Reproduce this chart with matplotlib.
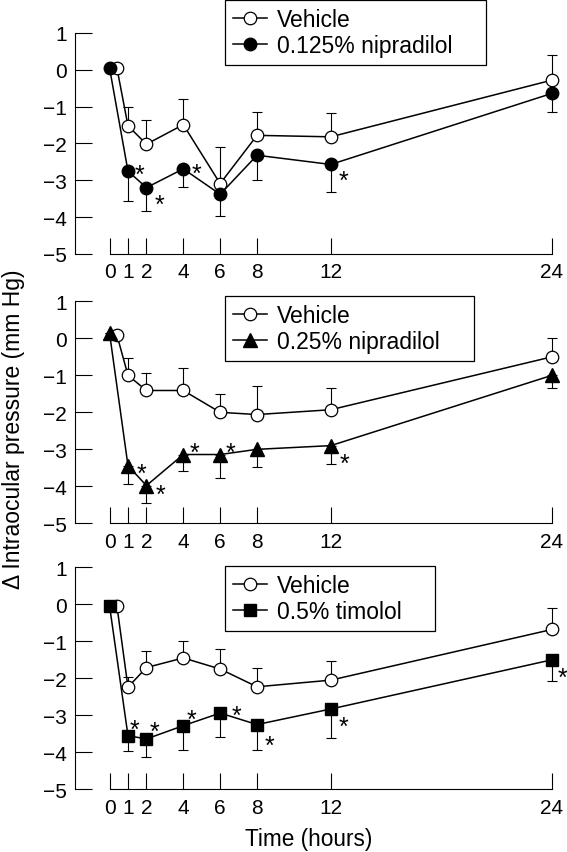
import matplotlib
matplotlib.use("Agg")
import matplotlib.pyplot as plt

plt.rcParams['font.family'] = ['Liberation Sans', 'DejaVu Sans']

hours = [0, 1, 2, 4, 6, 8, 12, 24]

# panel 1: vehicle vs 0.125% nipradilol
veh1 = [0.05, -1.52, -2.02, -1.49, -3.09, -1.78, -1.82, -0.28]
veh1_se = [0, 0.52, 0.67, 0.69, 0.99, 0.64, 0.66, 0.67]
nip125 = [0.05, -2.75, -3.2, -2.69, -3.38, -2.32, -2.57, -0.64]
nip125_se = [0, 0.81, 0.63, 0.48, 0.6, 0.68, 0.75, 0.5]
nip125_sig = [1, 2, 4, 12]

# panel 2: vehicle vs 0.25% nipradilol
veh2 = [0.09, -1.0, -1.41, -1.41, -2.0, -2.06, -1.93, -0.5]
veh2_se = [0, 0.48, 0.46, 0.6, 0.5, 0.77, 0.6, 0.5]
nip25 = [0.14, -3.44, -3.98, -3.14, -3.14, -3.0, -2.9, -1.0]
nip25_se = [0, 0.51, 0.47, 0.45, 0.63, 0.47, 0.51, 0.35]
nip25_sig = [1, 2, 4, 6, 12]

# panel 3: vehicle vs 0.5% timolol
veh3 = [-0.04, -2.24, -1.71, -1.45, -1.75, -2.23, -2.05, -0.68]
veh3_se = [0, 0.28, 0.46, 0.47, 0.53, 0.5, 0.51, 0.59]
tim = [-0.04, -3.55, -3.64, -3.28, -2.94, -3.25, -2.83, -1.5]
tim_se = [0, 0.42, 0.49, 0.67, 0.65, 0.7, 0.79, 0.58]
tim_sig = [1, 2, 4, 6, 8, 12, 24]

# asterisk offsets (px right, px up) per significant time point
star_off1 = {1: (12, 3), 2: (13, -10), 4: (13, 2), 12: (13, -9)}
star_off2 = {1: (14, -1), 2: (14, -2), 4: (11, 9), 6: (10, 9), 12: (14, -11)}
star_off3 = {1: (7, 13), 2: (8, 14), 4: (8, 13), 6: (16, 4), 8: (12, -14),
             12: (13, -11), 24: (10, -11)}


def draw_panel(ax, veh, veh_se, drug, drug_se, sig, offs, marker, label, leg_box):
    zeros = [0] * len(hours)
    veh_x = [h + 0.4 if h == 0 else h for h in hours]
    ax.errorbar(veh_x, veh, yerr=[zeros, veh_se], fmt='none', ecolor='black',
                elinewidth=0.8, capsize=3.5, capthick=0.8, clip_on=False, zorder=2)
    ax.errorbar(hours, drug, yerr=[drug_se, zeros], fmt='none', ecolor='black',
                elinewidth=0.8, capsize=3.5, capthick=0.8, clip_on=False, zorder=2)
    ax.plot(veh_x, veh, '-o', color='black', lw=1.1, ms=9, mfc='white',
            mec='black', mew=0.9, label='Vehicle', clip_on=False, zorder=3)
    ms = {'o': 9, '^': 10.5, 's': 8.3}[marker]
    ax.plot(hours, drug, '-' + marker, color='black', lw=1.1, ms=ms, mfc='black',
            mec='black', label=label, clip_on=False, zorder=4)
    for h in sig:
        i = hours.index(h)
        dx, dy = offs[h]
        ax.annotate('*', (hours[i], drug[i]), xytext=(dx * 0.72, dy * 0.72 - 5),
                    textcoords='offset points', ha='center', va='center',
                    fontsize=18)

    ax.set_xlim(-1.9, 24)
    ax.set_ylim(-5, 1)
    ax.spines['top'].set_visible(False)
    ax.spines['right'].set_visible(False)
    ax.spines['left'].set_bounds(-5, 1)
    ax.spines['bottom'].set_bounds(0, 24)
    ax.spines['left'].set_linewidth(0.8)
    ax.spines['bottom'].set_linewidth(0.8)
    ax.set_xticks(hours)
    ax.set_xticklabels([str(h) for h in hours])
    ax.set_yticks(range(-5, 2))
    ax.tick_params(axis='x', direction='in', length=11.5, width=0.8, pad=6, labelsize=15)
    ax.tick_params(axis='y', direction='in', length=12, width=0.8, pad=5.5, labelsize=15)
    leg = ax.legend(loc='upper left', bbox_to_anchor=leg_box, bbox_transform=fig.transFigure,
                    mode='expand', borderaxespad=0, fontsize=16.5, frameon=True,
                    fancybox=False, edgecolor='black', framealpha=1, handlelength=1.5,
                    handletextpad=0.4, labelspacing=0.15, borderpad=0.35)
    leg.get_frame().set_linewidth(0.9)


fig = plt.figure(figsize=(5.67, 8.53), dpi=100)
ax1 = fig.add_axes([0.1314, 0.7011, 0.8422, 0.2591])
ax2 = fig.add_axes([0.1314, 0.3853, 0.8422, 0.2603])
ax3 = fig.add_axes([0.1314, 0.0735, 0.8422, 0.2603])

draw_panel(ax1, veh1, veh1_se, nip125, nip125_se, nip125_sig, star_off1, 'o',
           '0.125% nipradilol', (0.3968, 0.0, 0.4603, 0.999))
draw_panel(ax2, veh2, veh2_se, nip25, nip25_se, nip25_sig, star_off2, '^',
           '0.25% nipradilol', (0.3968, 0.0, 0.4392, 0.6518))
draw_panel(ax3, veh3, veh3_se, tim, tim_se, tim_sig, star_off3, 's',
           '0.5% timolol', (0.3968, 0.0, 0.3704, 0.3353))

fig.text(0.023, 0.497, '\u0394 Intraocular pressure (mm Hg)', rotation=90,
         ha='center', va='center', fontsize=16.5)
fig.text(0.545, 0.016, 'Time (hours)', ha='center', va='center', fontsize=16.3)

fig.savefig('out.png', dpi=100)
